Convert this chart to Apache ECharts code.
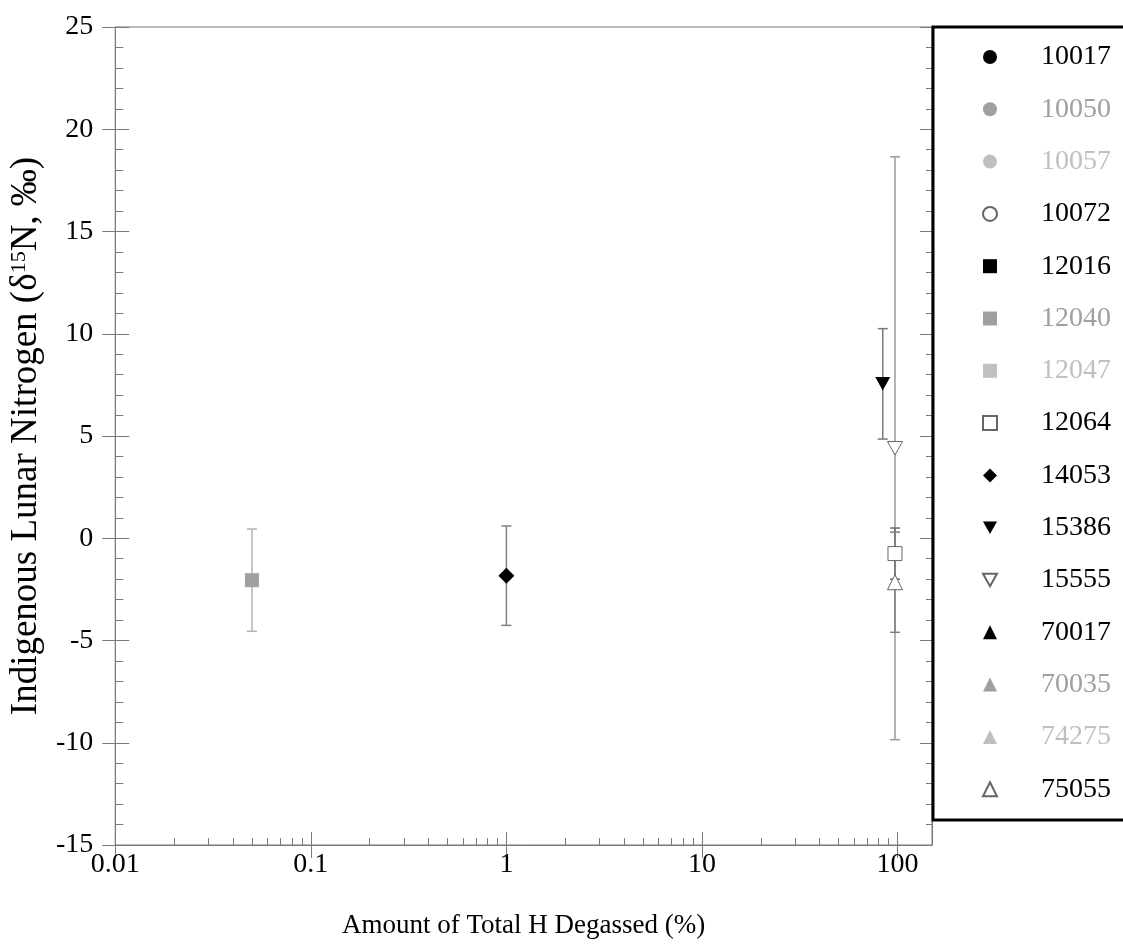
<!DOCTYPE html>
<html>
<head>
<meta charset="utf-8">
<script src="https://cdn.jsdelivr.net/npm/echarts@6/dist/echarts.min.js"></script>
<style>
html,body{margin:0;padding:0;background:#fff;}
#chart{width:1123px;height:952px;}
</style>
</head>
<body>
<div id="chart"></div>
<script>
// ---------- DATA ----------
const samples = ['10017','10050','10057','10072','12016','12040','12047','12064','14053','15386','15555','70017','70035','74275','75055'];
const plottedSamples = ['12040','14053','15386','15555','12064','75055'];
const hDegassedPct = [0.05, 1, 84, 97, 97, 97];
const d15N = [-2.05, -1.83, 7.55, 4.4, -0.75, -2.15];
const errMinus = [2.5, 2.43, 2.7, 14.25, 1.25, 2.45];
const errPlus = [2.5, 2.43, 2.7, 14.25, 1.25, 2.45];
const xMajorTicks = [0.01, 0.1, 1, 10, 100];
const xMinorTicks = [0.02,0.03,0.04,0.05,0.06,0.07,0.08,0.09,0.2,0.3,0.4,0.5,0.6,0.7,0.8,0.9,2,3,4,5,6,7,8,9,20,30,40,50,60,70,80,90];
const xTitle = 'Amount of Total H Degassed (%)';
const yTitleParts = ['Indigenous Lunar Nitrogen (δ', '15', 'N, ‰)'];

// ---------- STYLE ----------
const FONT = 'Liberation Serif';
const AX = '#7a7a7a';
const DOWN = 'path://M0,0L10,0L5,9Z';
const symbolOf = ['circle','circle','circle','circle','rect','rect','rect','rect','diamond',DOWN,DOWN,'triangle','triangle','triangle','triangle'];
const fillOf = ['#000','#a0a0a0','#c0c0c0','#fff','#000','#a0a0a0','#c0c0c0','#fff','#000','#000','#fff','#000','#a0a0a0','#c0c0c0','#fff'];
const openOf = [false,false,false,true,false,false,false,true,false,false,true,false,false,false,true];
const textColorOf = ['#000','#a0a0a0','#c0c0c0','#000','#000','#a0a0a0','#c0c0c0','#000','#000','#000','#000','#000','#a0a0a0','#c0c0c0','#000'];
const sizeOf = [13,13,13,13,14,14,14,14,16,15,15,15,15,15,15];
const errColorOf = {'12040':'#b4b4b4','14053':'#808080','15386':'#7a7a7a','15555':'#9a9a9a','12064':'#6a6a6a','75055':'#808080'};

const chart = echarts.init(document.getElementById('chart'), null, {renderer:'canvas'});

const scatterSeries = samples.map((s, i) => {
  const data = [];
  plottedSamples.forEach((p, j) => { if (p === s) data.push([hDegassedPct[j], d15N[j]]); });
  return {
    name: s,
    type: 'scatter',
    xAxisIndex: 0, yAxisIndex: 0,
    symbol: symbolOf[i],
    symbolKeepAspect: true,
    symbolSize: sizeOf[i],
    itemStyle: {
      color: fillOf[i],
      borderColor: openOf[i] ? '#666' : fillOf[i],
      borderWidth: openOf[i] ? 1 : 0,
      opacity: 1
    },
    z: 5,
    data: data
  };
});

const errData = plottedSamples.map((p, j) => [hDegassedPct[j], d15N[j], d15N[j] - errMinus[j], d15N[j] + errPlus[j], j]);

const errSeries = {
  type: 'custom',
  name: 'err',
  xAxisIndex: 0, yAxisIndex: 0,
  z: 3,
  encode: {x: 0, y: [1, 2, 3]},
  renderItem: function (params, api) {
    const x = api.value(0);
    const lo = api.value(2), hi = api.value(3);
    const j = api.value(4);
    const color = errColorOf[plottedSamples[j]];
    const pT = api.coord([x, hi]);
    const pB = api.coord([x, lo]);
    const h = 5;
    const st = {stroke: color, lineWidth: 1.5};
    return {
      type: 'group',
      children: [
        {type: 'line', shape: {x1: pT[0], y1: pT[1], x2: pB[0], y2: pB[1]}, style: st},
        {type: 'line', shape: {x1: pT[0]-h, y1: pT[1], x2: pT[0]+h, y2: pT[1]}, style: st},
        {type: 'line', shape: {x1: pB[0]-h, y1: pB[1], x2: pB[0]+h, y2: pB[1]}, style: st}
      ]
    };
  },
  data: errData
};

const labelStyle = {fontFamily: FONT, fontSize: 28, color: '#000'};

const option = {
  animation: false,
  backgroundColor: '#fff',
  grid: {left: 115, top: 27, right: 191, bottom: 107, show: true, borderColor: AX, borderWidth: 1, backgroundColor: 'transparent'},
  xAxis: [
    {
      type: 'log', logBase: 10, min: 0.01, max: 150, position: 'bottom',
      name: xTitle, nameLocation: 'middle', nameGap: 67,
      nameTextStyle: {fontFamily: FONT, fontSize: 27, color: '#000'},
      axisLine: {show: true, onZero: false, lineStyle: {color: AX, width: 1}},
      axisTick: {show: true, inside: true, length: 13, lineStyle: {color: AX}, customValues: xMajorTicks},
      axisLabel: Object.assign({margin: 6, customValues: xMajorTicks, formatter: v => String(v)}, labelStyle),
      splitLine: {show: false}, minorTick: {show: false}
    },
    {
      type: 'log', logBase: 10, min: 0.01, max: 150, position: 'bottom',
      axisLine: {show: false, onZero: false},
      axisTick: {show: true, inside: false, length: 13, lineStyle: {color: AX}, customValues: xMajorTicks},
      axisLabel: {show: false}, splitLine: {show: false}
    },
    {
      type: 'log', logBase: 10, min: 0.01, max: 150, position: 'bottom',
      axisLine: {show: false, onZero: false},
      axisTick: {show: true, inside: true, length: 7, lineStyle: {color: AX}, customValues: xMinorTicks},
      axisLabel: {show: false}, splitLine: {show: false}
    }
  ],
  yAxis: [
    {
      type: 'value', min: -15, max: 25, interval: 5, position: 'left',
      name: '{a|' + yTitleParts[0] + '}{s|' + yTitleParts[1] + '}{a|' + yTitleParts[2] + '}',
      nameLocation: 'middle', nameGap: 68, nameRotate: 90,
      nameTextStyle: {
        fontFamily: FONT, fontSize: 37, color: '#000',
        rich: {
          a: {fontFamily: FONT, fontSize: 37, color: '#000'},
          s: {fontFamily: FONT, fontSize: 22, color: '#000', verticalAlign: 'top', padding: [0, 0, 13, 0]}
        }
      },
      axisLine: {show: true, onZero: false, lineStyle: {color: AX, width: 1}},
      axisTick: {show: true, inside: true, length: 14, lineStyle: {color: AX}},
      minorTick: {show: true, splitNumber: 5, length: 8, lineStyle: {color: AX}},
      axisLabel: Object.assign({margin: 22}, labelStyle),
      splitLine: {show: false}
    },
    {
      type: 'value', min: -15, max: 25, interval: 5, position: 'left',
      axisLine: {show: false, onZero: false},
      axisTick: {show: true, inside: false, length: 13, lineStyle: {color: AX}},
      axisLabel: {show: false}, splitLine: {show: false}
    },
    {
      type: 'value', min: -15, max: 25, interval: 5, position: 'right',
      axisLine: {show: true, onZero: false, lineStyle: {color: AX}},
      axisTick: {show: true, inside: true, length: 12, lineStyle: {color: AX}},
      minorTick: {show: true, splitNumber: 5, length: 6, lineStyle: {color: AX}},
      axisLabel: {show: false}, splitLine: {show: false}
    }
  ],
  legend: {
    orient: 'vertical',
    left: 982, top: 43,
    padding: 0,
    itemWidth: 14, itemHeight: 14,
    itemGap: 24.3,
    selectedMode: false,
    textStyle: {fontFamily: FONT, fontSize: 28, lineHeight: 28, padding: [0, 0, 0, 39]},
    data: samples.map((s, i) => ({name: s, textStyle: {color: textColorOf[i]}}))
  },
  graphic: [
    {
      type: 'rect', z: 100, silent: true,
      shape: {x: 933, y: 27, width: 300, height: 793},
      style: {fill: 'transparent', stroke: '#000', lineWidth: 3}
    }
  ],
  series: [errSeries].concat(scatterSeries)
};

chart.setOption(option);
</script>
</body>
</html>
